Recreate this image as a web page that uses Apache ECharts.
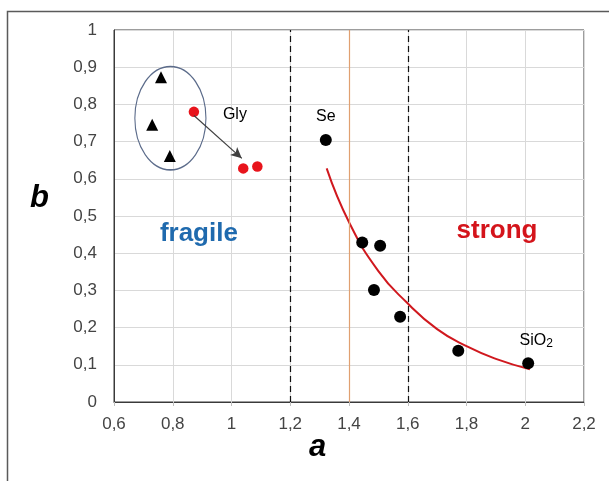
<!DOCTYPE html>
<html>
<head>
<meta charset="utf-8">
<script src="https://cdn.jsdelivr.net/npm/echarts@6/dist/echarts.min.js"></script>
<style>
html,body{margin:0;padding:0;background:#fff;}
#c{width:609px;height:481px;}
</style>
</head>
<body>
<div id="c"></div>
<script>
// ---- data ----
var triangles = [[0.760, 0.873], [0.730, 0.745], [0.790, 0.661]];
var redDots = [[0.872, 0.780], [1.040, 0.628], [1.088, 0.633]];
var blackDots = [[1.321, 0.704], [1.445, 0.429], [1.506, 0.420], [1.485, 0.301],
                 [1.574, 0.229], [1.772, 0.138], [2.010, 0.104]];
var fitCurve = [[1.324, 0.628], [1.401, 0.482], [1.500, 0.352], [1.596, 0.268],
                [1.700, 0.196], [1.800, 0.150], [1.900, 0.116], [2.016, 0.088]];
var ellipseGroup = [[0.792, 0.763, 0.121, 0.139]]; // centre a, centre b, half-width, half-height
var arrowFrom = [0.872, 0.770];
var arrowTo = [1.035, 0.655];
var boundaryLines = [1.2, 1.6];
var middleLine = 1.4;
var xTicks = ['0,6', '0,8', '1', '1,2', '1,4', '1,6', '1,8', '2', '2,2'];
var yTicks = ['0', '0,1', '0,2', '0,3', '0,4', '0,5', '0,6', '0,7', '0,8', '0,9', '1'];

var chart = echarts.init(document.getElementById('c'), null, {renderer: 'canvas'});
var font = 'Liberation Sans, Arial, sans-serif';

var option = {
  animation: false,
  backgroundColor: '#ffffff',
  grid: {left: 114, right: 25, top: 30, bottom: 79, show: true, borderColor: '#3a3a3a', borderWidth: 1},
  graphic: [
    {type: 'rect', z: 0, shape: {x: 7.5, y: 11.5, width: 700, height: 600},
     style: {fill: 'none', stroke: '#5a5a5a', lineWidth: 1.5}},
    {type: 'text', left: 30, top: 183, style: {text: 'b', font: 'italic bold 31px ' + font, fill: '#000'}},
    {type: 'text', left: 309, top: 432, style: {text: 'a', font: 'italic bold 31px ' + font, fill: '#000'}}
  ],
  xAxis: {
    type: 'value', min: 0.6, max: 2.2, interval: 0.2,
    axisLine: {show: true, onZero: false, lineStyle: {color: '#3a3a3a'}},
    axisTick: {show: true, length: 4, lineStyle: {color: '#bfbfbf'}},
    splitLine: {show: true, lineStyle: {color: '#d9d9d9'}},
    axisLabel: {margin: 14, fontSize: 17, color: '#444', fontFamily: font,
      formatter: function (v) { return xTicks[Math.round((v - 0.6) / 0.2)]; }}
  },
  yAxis: {
    type: 'value', min: 0, max: 1, interval: 0.1,
    axisLine: {show: true, lineStyle: {color: '#3a3a3a'}},
    axisTick: {show: false},
    splitLine: {show: true, lineStyle: {color: '#d9d9d9'}},
    axisLabel: {margin: 17, fontSize: 17, color: '#444', fontFamily: font,
      formatter: function (v) { return yTicks[Math.round(v / 0.1)]; }}
  },
  series: [
    {
      type: 'custom', silent: true, z: 1,
      data: ellipseGroup,
      renderItem: function (params, api) {
        var c = api.coord([api.value(0), api.value(1)]);
        var s = api.size([api.value(2), api.value(3)]);
        return {
          type: 'group',
          children: [{
            type: 'circle',
            x: c[0], y: c[1], scaleX: s[0], scaleY: s[1],
            shape: {cx: 0, cy: 0, r: 1},
            style: {fill: 'none', stroke: '#5b6b8a', lineWidth: 1.3, strokeNoScale: true}
          }]
        };
      }
    },
    {
      type: 'line', data: fitCurve, smooth: true, showSymbol: false, symbol: 'none', z: 2,
      lineStyle: {color: '#d0181e', width: 2},
      markLine: {
        silent: true, symbol: 'none', label: {show: false},
        data: [
          {xAxis: boundaryLines[0], lineStyle: {color: '#111', type: [6, 4], width: 1.2}},
          {xAxis: boundaryLines[1], lineStyle: {color: '#111', type: [6, 4], width: 1.2}},
          {xAxis: middleLine, lineStyle: {color: '#e0a070', type: 'solid', width: 1.2}}
        ]
      }
    },
    {
      type: 'scatter', data: triangles, symbol: 'triangle', symbolSize: 12, z: 3,
      itemStyle: {color: '#000', opacity: 1}
    },
    {
      type: 'scatter', data: redDots, symbol: 'circle', symbolSize: 10.5, z: 3,
      itemStyle: {color: '#e8141c', opacity: 1},
      label: {show: false},
      markLine: {
        silent: true, symbol: ['none', 'arrow'], symbolSize: [8, 11],
        label: {show: false},
        lineStyle: {color: '#404040', type: 'solid', width: 1.2, opacity: 1},
        data: [[{coord: arrowFrom}, {coord: arrowTo}]]
      }
    },
    {
      type: 'scatter', symbol: 'circle', symbolSize: 12, z: 3,
      itemStyle: {color: '#000', opacity: 1},
      data: blackDots.map(function (p, i) {
        var d = {value: p};
        if (i === 0) d.label = {show: true, position: 'top', distance: 10, formatter: 'Se',
          fontSize: 16, color: '#000', fontFamily: font};
        if (i === blackDots.length - 1) d.label = {show: true, position: 'top', distance: 8, offset: [8, 0],
          formatter: '{m|SiO}{s|2}', fontFamily: font,
          rich: {m: {fontSize: 16, color: '#000', fontFamily: font},
                 s: {fontSize: 12, color: '#000', fontFamily: font, padding: [6, 0, 0, 0]}}};
        return d;
      })
    },
    {
      type: 'scatter', symbolSize: 0, silent: true, z: 4,
      itemStyle: {opacity: 1},
      data: [
        {value: [0.872, 0.780], label: {show: true, formatter: 'Gly', position: 'right',
          offset: [24, 3], fontSize: 16, color: '#000', fontFamily: font}},
        {value: [0.889, 0.452], label: {show: true, formatter: 'fragile', position: 'inside',
          fontSize: 26, fontWeight: 'bold', color: '#1f6aae', fontFamily: font}},
        {value: [1.904, 0.460], label: {show: true, formatter: 'strong', position: 'inside',
          fontSize: 26, fontWeight: 'bold', color: '#d4141b', fontFamily: font}}
      ]
    }
  ]
};
chart.setOption(option);
</script>
</body>
</html>
